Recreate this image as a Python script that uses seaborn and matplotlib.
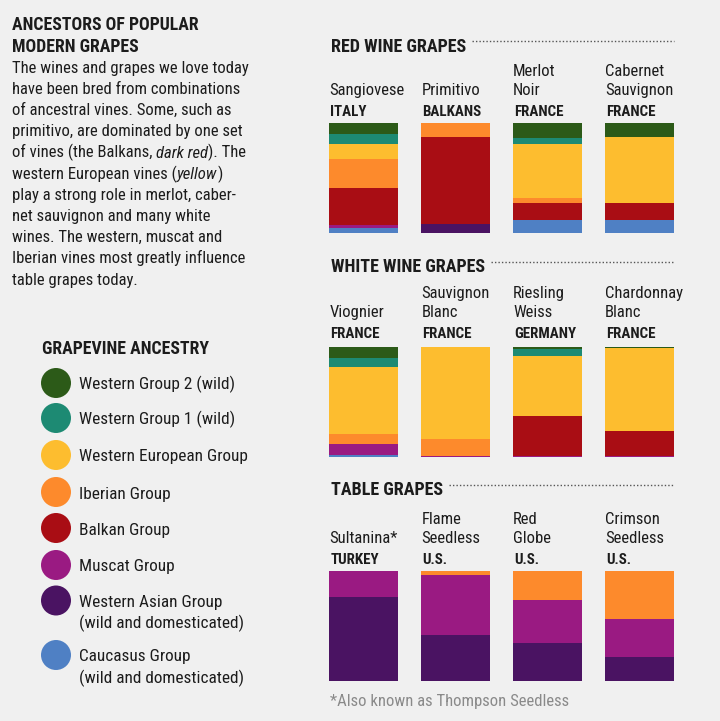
import numpy as np
import pandas as pd
import matplotlib
matplotlib.use("Agg")
import matplotlib.pyplot as plt
import matplotlib.font_manager as fm
import seaborn as sns

# ---------------- data ----------------
groups = ["Western Group 2 (wild)", "Western Group 1 (wild)", "Western European Group",
          "Iberian Group", "Balkan Group", "Muscat Group",
          "Western Asian Group\n(wild and domesticated)", "Caucasus Group\n(wild and domesticated)"]
group_colors = ["#2c5a18", "#1d8a73", "#fdbd2f", "#fd8a2c", "#a90d14", "#9a1a82", "#4a1362", "#4f80c4"]

red_names = ["Sangiovese", "Primitivo", "Merlot\nNoir", "Cabernet\nSauvignon"]
red_origin = ["ITALY", "BALKANS", "FRANCE", "FRANCE"]
# shares per grape, ordered WG2, WG1, WE, Iberian, Balkan, Muscat, W.Asian, Caucasus
sangiovese = [10.0, 9.0, 13.5, 27.0, 33.5, 2.0, 0.0, 5.0]
primitivo = [0.0, 0.0, 0.0, 12.8, 78.7, 0.0, 8.5, 0.0]
merlot_noir = [13.7, 5.5, 49.4, 4.0, 15.8, 0.0, 0.0, 11.6]
cabernet_sauvignon = [12.8, 0.0, 59.8, 0.0, 15.8, 0.0, 0.0, 11.6]

white_names = ["Viognier", "Sauvignon\nBlanc", "Riesling\nWeiss", "Chardonnay\nBlanc"]
white_origin = ["FRANCE", "FRANCE", "GERMANY", "FRANCE"]
viognier = [9.7, 8.5, 60.5, 9.4, 0.0, 9.7, 0.0, 2.2]
sauvignon_blanc = [0.0, 0.0, 83.9, 15.3, 0.0, 0.8, 0.0, 0.0]
riesling_weiss = [1.8, 6.7, 54.1, 0.0, 36.6, 0.8, 0.0, 0.0]
chardonnay_blanc = [0.6, 0.0, 75.7, 0.0, 22.9, 0.8, 0.0, 0.0]

table_names = ["Sultanina*", "Flame\nSeedless", "Red\nGlobe", "Crimson\nSeedless"]
table_origin = ["TURKEY", "U.S.", "U.S.", "U.S."]
sultanina = [0.0, 0.0, 0.0, 0.0, 0.0, 23.3, 76.7, 0.0]
flame_seedless = [0.0, 0.0, 0.0, 3.6, 0.0, 54.6, 41.8, 0.0]
red_globe = [0.0, 0.0, 0.0, 26.5, 0.0, 39.0, 34.5, 0.0]
crimson_seedless = [0.0, 0.0, 0.0, 43.6, 0.0, 34.7, 21.7, 0.0]

title_lines = ["ANCESTORS OF POPULAR", "MODERN GRAPES"]
body_lines = [
    [("The wines and grapes we love today", "normal")],
    [("have been bred from combinations", "normal")],
    [("of ancestral vines. Some, such as", "normal")],
    [("primitivo, are dominated by one set", "normal")],
    [("of vines (the Balkans, ", "normal"), ("dark red", "italic"), ("). The", "normal")],
    [("western European vines (", "normal"), ("yellow", "italic"), (")", "normal")],
    [("play a strong role in merlot, caber-", "normal")],
    [("net sauvignon and many white", "normal")],
    [("wines. The western, muscat and", "normal")],
    [("Iberian vines most greatly influence", "normal")],
    [("table grapes today.", "normal")],
]

# ---------------- style ----------------
sns.set_theme(style="white")
BG = "#f0f0f0"
INK = "#1c1c1c"

def has_font(name):
    try:
        fm.findfont(fm.FontProperties(family=name), fallback_to_default=False)
        return True
    except Exception:
        return False

if has_font("Roboto Condensed"):
    FONT, SC = "Roboto Condensed", 1.0
elif has_font("Liberation Sans Narrow"):
    FONT, SC = "Liberation Sans Narrow", 1.0
else:
    FONT, SC = "Roboto", 0.9
plt.rcParams["font.family"] = [FONT, "DejaVu Sans"]

fig = plt.figure(figsize=(7.2, 7.21), dpi=100, facecolor=BG)
W, H = 720, 721
ov = fig.add_axes([0, 0, 1, 1])
ov.set_xlim(0, W)
ov.set_ylim(H, 0)
ov.axis("off")
ov.patch.set_alpha(0)

FS = 12.0 * SC
FSB = 12.8 * SC
FSH = 13.0 * SC
FSL = 12.4 * SC
renderer = fig.canvas.get_renderer()

# title and body
for i, t in enumerate(title_lines):
    ov.text(12, 30 + 21.7 * i, t, fontsize=FSB, fontweight="bold", color=INK, va="baseline")
for i, parts in enumerate(body_lines):
    x = 12
    y = 72.7 + 21.2 * i
    for txt, style in parts:
        tt = ov.text(x, y, txt, fontsize=FS, fontstyle=style, color=INK, va="baseline")
        bb = tt.get_window_extent(renderer=renderer)
        x += bb.width

# legend
ov.text(42, 354, "GRAPEVINE ANCESTRY", fontsize=FSB, fontweight="bold", color=INK, va="baseline")
leg_y = [383, 418, 455, 492, 528, 565, 600.5, 655]
leg_df = pd.DataFrame({"x": [56] * 8, "y": leg_y, "g": groups})
sns.scatterplot(data=leg_df, x="x", y="y", hue="g", palette=dict(zip(groups, group_colors)),
                s=(30 * 0.72) ** 2, linewidth=0, legend=False, ax=ov)
ov.set_xlim(0, W)
ov.set_ylim(H, 0)
ov.axis("off")
for g, y in zip(groups, leg_y):
    for li, line in enumerate(g.split("\n")):
        ov.text(79, y + 6.5 + 21.5 * li, line, fontsize=FSL, color=INK, va="baseline")

# sections
sections = [
    ("RED WINE GRAPES", red_names, red_origin,
     [sangiovese, primitivo, merlot_noir, cabernet_sauvignon], 52, 41, 76, 123, 233),
    ("WHITE WINE GRAPES", white_names, white_origin,
     [viognier, sauvignon_blanc, riesling_weiss, chardonnay_blanc], 272, 262, 298, 347, 457),
    ("TABLE GRAPES", table_names, table_origin,
     [sultanina, flame_seedless, red_globe, crimson_seedless], 495, 485, 524, 571, 681),
]
centers0, step = 363.9, 91.9
for title, names, origins, vals, ty, dy, ny, btop, bbot in sections:
    t = ov.text(331, ty, title, fontsize=FSH, fontweight="bold", color=INK, va="baseline")
    bb = t.get_window_extent(renderer=renderer)
    ov.plot([331 + bb.width + 6, 674], [dy, dy], linestyle=(0, (1, 1.5)), color="#555555", lw=1)
    for j, (n, o) in enumerate(zip(names, origins)):
        lines = n.split("\n")
        xl = centers0 + step * j - 34.5
        if len(lines) == 1:
            ov.text(xl, ny + 19, lines[0], fontsize=FS, color=INK, va="baseline")
        else:
            ov.text(xl, ny, lines[0], fontsize=FS, color=INK, va="baseline")
            ov.text(xl, ny + 19, lines[1], fontsize=FS, color=INK, va="baseline")
        ov.text(xl + 1, ny + 40, o, fontsize=FS * 0.9, fontweight="bold", color=INK, va="baseline")

    ax = fig.add_axes([(centers0 - step / 2) / W, (H - bbot) / H, 4 * step / W, (bbot - btop) / H])
    arr = np.array(vals)  # grapes x groups
    labels = [n.replace("\n", " ") for n in names]
    for k in range(8):
        cum = arr[:, k:].sum(axis=1)
        df = pd.DataFrame({"grape": labels, "share": cum})
        sns.barplot(data=df, x="grape", y="share", order=labels, color=group_colors[k],
                    saturation=1, width=0.75, errorbar=None, linewidth=0, ax=ax)
    ax.set_xlim(-0.5, 3.5)
    ax.set_ylim(0, arr.sum(axis=1).max())
    ax.axis("off")
    ax.patch.set_alpha(0)

ov.text(330, 706, "*Also known as Thompson Seedless", fontsize=FS, color="#8a8a8a", va="baseline")

fig.savefig("out.png", dpi=100, facecolor=BG)
